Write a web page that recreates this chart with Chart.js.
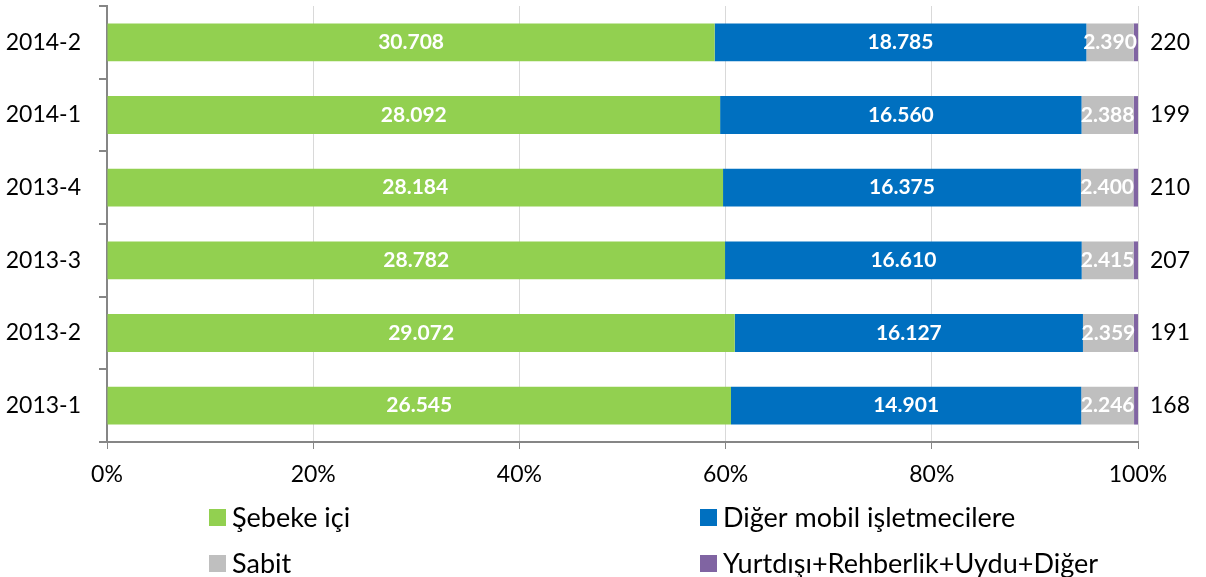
<!DOCTYPE html>
<html>
<head>
<meta charset="utf-8">
<script src="https://cdn.jsdelivr.net/npm/chart.js@4/dist/chart.umd.min.js"></script>
<style>
  html, body { margin: 0; padding: 0; background: #fff; }
  #kutu { width: 1206px; height: 577px; }
</style>
</head>
<body>
<div id="kutu"><canvas id="grafik"></canvas></div>
<script>
const donemler = ['2014-2', '2014-1', '2013-4', '2013-3', '2013-2', '2013-1'];
const sebekeIci = [30708, 28092, 28184, 28782, 29072, 26545];
const digerMobil = [18785, 16560, 16375, 16610, 16127, 14901];
const sabit = [2390, 2388, 2400, 2415, 2359, 2246];
const yurtdisi = [220, 199, 210, 207, 191, 168];
const xEtiketleri = ['0%', '20%', '40%', '60%', '80%', '100%'];

const seriler = [
    { ad: 'Şebeke içi', veri: sebekeIci, renk: '#92d050' },
    { ad: 'Diğer mobil işletmecilere', veri: digerMobil, renk: '#0070c0' },
    { ad: 'Sabit', veri: sabit, renk: '#bfbfbf' },
    { ad: 'Yurtdışı+Rehberlik+Uydu+Diğer', veri: yurtdisi, renk: '#8064a2' },
];

// her dönemin toplamı, yüzdeye çevirmek için
const toplamlar = donemler.map((_, i) => seriler.reduce((t, s) => t + s.veri[i], 0));

const YAZI = 'Lato, "Noto Sans", sans-serif';

function binlik(n) {
    return String(n).replace(/\B(?=(\d{3})+(?!\d))/g, '.');
}

// çubukların üstüne değer yazıları
const degerYazilari = {
    id: 'degerYazilari',
    afterDatasetsDraw(chart) {
        const ctx = chart.ctx;
        ctx.save();
        ctx.textBaseline = 'middle';
        chart.data.datasets.forEach((ds, di) => {
            const meta = chart.getDatasetMeta(di);
            meta.data.forEach((bar, i) => {
                const deger = ds.hamVeri[i];
                if (di === chart.data.datasets.length - 1) {
                    ctx.font = '23px ' + YAZI;
                    ctx.fillStyle = '#000';
                    ctx.textAlign = 'left';
                    ctx.fillText(binlik(deger), bar.x + 12, bar.y);
                } else {
                    ctx.font = 'bold 21px ' + YAZI;
                    ctx.fillStyle = '#fff';
                    ctx.textAlign = 'center';
                    ctx.fillText(binlik(deger), (bar.x + bar.base) / 2, bar.y);
                }
            });
        });
        ctx.restore();
    }
};

// alttaki iki sütunlu açıklama
const aciklama = {
    id: 'aciklama',
    afterDraw(chart) {
        const ctx = chart.ctx;
        const sutunX = [209, 700];
        const satirY = [517, 563];
        ctx.save();
        ctx.font = '27px ' + YAZI;
        ctx.textBaseline = 'middle';
        ctx.textAlign = 'left';
        chart.data.datasets.forEach((ds, i) => {
            const x = sutunX[i % 2];
            const y = satirY[Math.floor(i / 2)];
            ctx.fillStyle = ds.backgroundColor;
            ctx.fillRect(x, y - 8, 17, 17);
            ctx.fillStyle = '#000';
            ctx.fillText(ds.label, x + 23, y + 1);
        });
        ctx.restore();
    }
};

new Chart(document.getElementById('grafik'), {
    type: 'bar',
    data: {
        labels: donemler,
        datasets: seriler.map(s => ({
            label: s.ad,
            hamVeri: s.veri,
            data: s.veri.map((v, i) => v / toplamlar[i] * 100),
            backgroundColor: s.renk,
            borderWidth: 0,
            categoryPercentage: 1,
            barPercentage: 0.52,
        })),
    },
    options: {
        indexAxis: 'y',
        responsive: true,
        maintainAspectRatio: false,
        animation: false,
        layout: { padding: { top: 6, right: 68, bottom: 90, left: 0 } },
        plugins: {
            legend: { display: false },
            tooltip: { enabled: false },
        },
        scales: {
            x: {
                stacked: true,
                min: 0,
                max: 100,
                afterFit(scale) { scale.height = 45; },
                afterBuildTicks(scale) {
                    scale.ticks = xEtiketleri.map((_, i) => ({ value: i * 20 }));
                },
                ticks: {
                    color: '#000',
                    font: { family: YAZI, size: 23 },
                    padding: 12,
                    maxRotation: 0,
                    callback: (v, i) => xEtiketleri[i],
                },
                grid: {
                    color: '#d9d9d9',
                    lineWidth: 1,
                    tickColor: '#868686',
                    tickLength: 7,
                },
                border: { display: true, color: '#868686', width: 2 },
            },
            y: {
                stacked: true,
                afterFit(scale) {
                    scale.width = 107;
                    scale.paddingTop = 0;
                    scale.paddingBottom = 0;
                },
                ticks: {
                    color: '#000',
                    font: { family: YAZI, size: 23 },
                    padding: 18,
                },
                grid: {
                    offset: true,
                    drawOnChartArea: false,
                    tickColor: '#868686',
                    tickLength: 8,
                    lineWidth: 2,
                },
                border: { display: true, color: '#868686', width: 2 },
            },
        },
    },
    plugins: [degerYazilari, aciklama],
});
</script>
</body>
</html>
